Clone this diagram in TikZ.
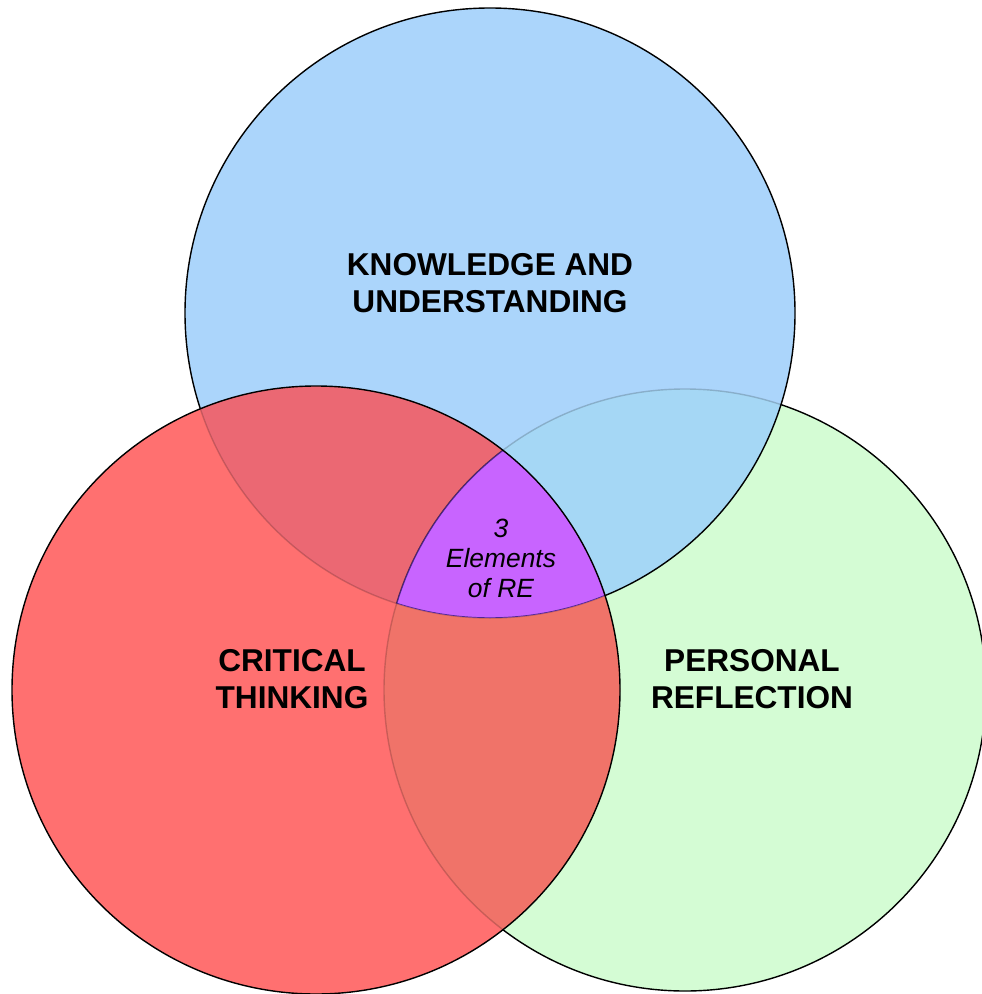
\documentclass[tikz,border=0pt]{standalone}
\usepackage{fontspec}
\setmainfont{Liberation Sans}
\usetikzlibrary{positioning}

\definecolor{knowblue}{RGB}{171,213,251}
\definecolor{critred}{RGB}{255,112,112}
\definecolor{reflgreen}{RGB}{212,252,212}
\definecolor{bluegreen}{RGB}{165,215,245}
\definecolor{redblue}{RGB}{235,104,115}
\definecolor{redgreen}{RGB}{240,115,105}
\definecolor{corepurple}{RGB}{200,100,255}

\begin{document}
\begin{tikzpicture}[x=0.5pt, y=-0.5pt,
              every node/.style = {align=center, text=black},
              headtext/.style = {font=\fontsize{15.8}{18.5}\selectfont\bfseries},
              coretext/.style = {font=\fontsize{13.2}{15}\selectfont\itshape},
              rim/.style = {draw=black, line width=0.7pt},
              faint/.style = {draw=black, draw opacity=0.18, line width=0.7pt},
              coreline/.style = {draw=black!70!blue, draw opacity=0.6, line width=0.7pt}]
  \useasboundingbox (0,0) rectangle (981,994);
  \coordinate (kc) at (490,313);
  \coordinate (cc) at (316,690);
  \coordinate (pc) at (685,690);
  \def\rk{305} \def\rc{304} \def\rp{301}
  % personal reflection
  \fill[reflgreen] (pc) circle[radius=\rp];
  \draw[rim] (pc) circle[radius=\rp];
  % knowledge and understanding
  \fill[knowblue] (kc) circle[radius=\rk];
  \begin{scope}
    \clip (kc) circle[radius=\rk];
    \fill[bluegreen] (pc) circle[radius=\rp];
    \draw[faint] (pc) circle[radius=\rp];
  \end{scope}
  \draw[rim] (kc) circle[radius=\rk];
  % critical thinking
  \fill[critred] (cc) circle[radius=\rc];
  \begin{scope}
    \clip (cc) circle[radius=\rc];
    \fill[redblue] (kc) circle[radius=\rk];
    \fill[redgreen] (pc) circle[radius=\rp];
    \draw[faint] (kc) circle[radius=\rk];
    \draw[faint] (pc) circle[radius=\rp];
    \begin{scope}
      \clip (kc) circle[radius=\rk];
      \fill[corepurple] (pc) circle[radius=\rp];
      \draw[coreline] (pc) circle[radius=\rp];
      \clip (pc) circle[radius=\rp];
      \draw[coreline] (kc) circle[radius=\rk];
    \end{scope}
  \end{scope}
  \draw[rim] (cc) circle[radius=\rc];
  % labels
  \node[headtext] (knowledge) at (490,283) {KNOWLEDGE AND\\UNDERSTANDING};
  \node[headtext] (critical) at (292,679) {CRITICAL\\THINKING};
  \node[headtext] (personal) at (752,679) {PERSONAL\\REFLECTION};
  \node[coretext] (core) at (501,558) {3\\Elements\\of RE};
\end{tikzpicture}
\end{document}
